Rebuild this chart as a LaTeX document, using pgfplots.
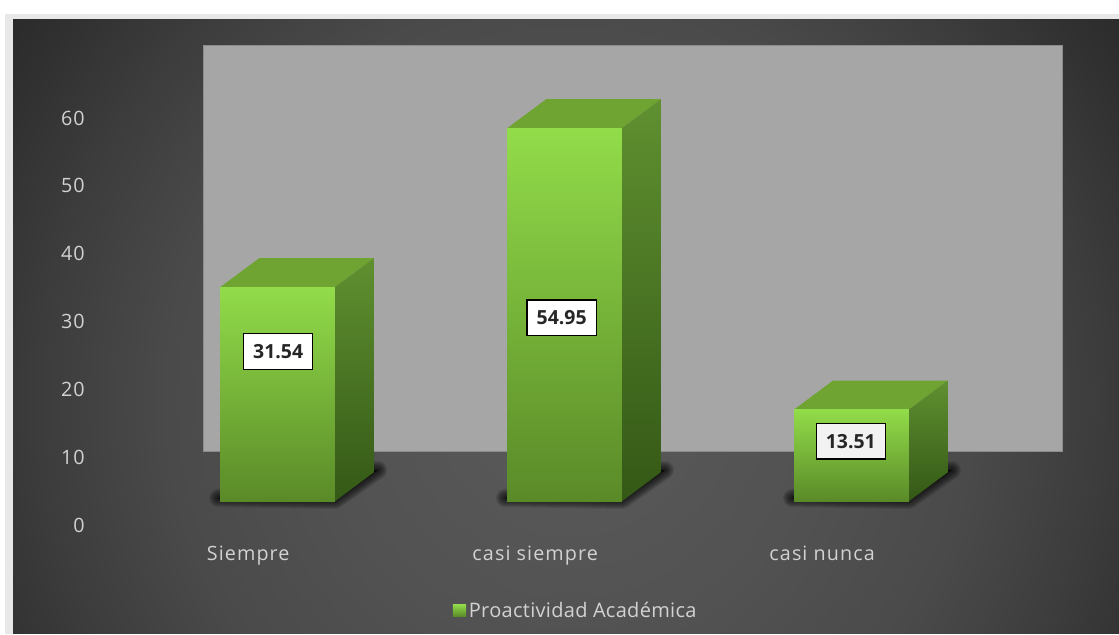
\documentclass[border=0pt]{standalone}
\usepackage{fontspec}
\setmainfont{Open Sans}
\newfontfamily\widefont[LetterSpace=5.5]{Open Sans}
\newfontfamily\legfont[LetterSpace=1.5]{Open Sans}
\usepackage{pgfplots}
\pgfplotsset{compat=1.18}
\definecolor{txt}{HTML}{D2D2D2}
\definecolor{wall}{HTML}{A6A6A6}
\definecolor{fronttop}{HTML}{92DC4A}
\definecolor{frontbot}{HTML}{5A8A28}
\definecolor{topface}{HTML}{6FA433}
\definecolor{sidetop}{HTML}{5F9030}
\definecolor{sidebot}{HTML}{345816}
\definecolor{bg0}{HTML}{5A5A5A}
\definecolor{bg1}{HTML}{525252}
\definecolor{bg2}{HTML}{4A4A4A}
\definecolor{bg3}{HTML}{3C3C3C}
\definecolor{bg4}{HTML}{2F2F2F}
\definecolor{bg5}{HTML}{282828}
\pgfdeclareradialshading{bgshade}{\pgfpoint{0bp}{0bp}}{%
  color(0bp)=(bg0);
  color(8.7bp)=(bg1);
  color(14.4bp)=(bg2);
  color(19bp)=(bg3);
  color(22.7bp)=(bg4);
  color(25.3bp)=(bg5);
  color(100bp)=(bg5)}
\begin{document}
\begin{tikzpicture}
\begin{scope}[x=0.75pt,y=-0.75pt]
\path[use as bounding box, fill=white] (0,0) rectangle (1119,634);
\fill[black!9] (5,14) rectangle (1119,634);
\begin{scope}
\clip (13,19) rectangle (1119,634);
\shade[shading=bgshade] (-130,-300) rectangle (1270,1100);
\end{scope}
\fill[wall] (203,45) rectangle (1063,451);
\draw[black!45,line width=0.6pt] (203,451) -- (203,45) -- (1063,45) -- (1063,451) -- cycle;
% soft shadows at the bar feet
\foreach \dx in {0,287,574}{
  \foreach \w in {18,16,14,12,10,8,6,4,2}{
    \fill[black,opacity=0.10,draw=black,line width=\w*0.75pt,line join=round]
      (218+\dx,498) -- (335+\dx,500) -- (378+\dx,470) -- (345+\dx,470) -- cycle;
  }
}
\end{scope}
\begin{axis}[
  at={(0,-475.5pt)}, anchor=south west,
  width=839.25pt, height=475.5pt, scale only axis,
  xmin=-0.9669, xmax=2.9321, ymin=-19.55, ymax=73.82,
  axis line style={draw=none}, major tick length=0pt,
  xtick={0,1,2}, xticklabels={Siempre,casi siempre,casi nunca},
  ytick={0,10,20,30,40,50,60},
  /pgf/number format/assume math mode=true,
  xticklabel style={font=\widefont\fontsize{14.8}{16}\selectfont, text=txt, anchor=center, text height=11pt, text depth=3pt, xshift=-22pt, yshift=59pt},
  yticklabel style={font=\widefont\fontsize{14.8}{16}\selectfont, text=txt, anchor=east, xshift=67pt, yshift=-18pt},
  legend style={at={(0.5,0.0)}, anchor=south, xshift=12.4pt, yshift=7pt, draw=none, fill=none,
    font=\legfont\fontsize{15}{16}\selectfont, text=txt, inner sep=2pt},
  legend image code/.code={\shade[top color=fronttop,bottom color=frontbot] (0pt,-4.5pt) rectangle (10pt,4.5pt);},
]
% Siempre
\addplot[forget plot, draw=none, fill=topface] coordinates {(-0.2,31.54) (0.2,31.54) (0.336,35.81) (-0.064,35.81)} --cycle;
\addplot[forget plot, draw=none, shading angle=20, top color=sidetop, bottom color=sidebot] coordinates {(0.2,0) (0.336,4.27) (0.336,35.81) (0.2,31.54)} --cycle;
\addplot[draw=none, top color=fronttop, bottom color=frontbot] coordinates {(-0.2,0) (0.2,0) (0.2,31.54) (-0.2,31.54)} --cycle;
\addlegendentry{Proactividad Académica}
% casi siempre
\addplot[forget plot, draw=none, fill=topface] coordinates {(0.8,54.95) (1.2,54.95) (1.336,59.22) (0.936,59.22)} --cycle;
\addplot[forget plot, draw=none, shading angle=20, top color=sidetop, bottom color=sidebot] coordinates {(1.2,0) (1.336,4.27) (1.336,59.22) (1.2,54.95)} --cycle;
\addplot[forget plot, draw=none, top color=fronttop, bottom color=frontbot] coordinates {(0.8,0) (1.2,0) (1.2,54.95) (0.8,54.95)} --cycle;
% casi nunca
\addplot[forget plot, draw=none, fill=topface] coordinates {(1.8,13.51) (2.2,13.51) (2.336,17.78) (1.936,17.78)} --cycle;
\addplot[forget plot, draw=none, shading angle=20, top color=sidetop, bottom color=sidebot] coordinates {(2.2,0) (2.336,4.27) (2.336,17.78) (2.2,13.51)} --cycle;
\addplot[forget plot, draw=none, top color=fronttop, bottom color=frontbot] coordinates {(1.8,0) (2.2,0) (2.2,13.51) (1.8,13.51)} --cycle;
% data labels
\tikzset{dl/.style={draw=black, line width=0.8pt, fill=white, text=black!85, minimum width=52pt, minimum height=26.5pt, inner sep=0pt, font=\fontsize{14.6}{16}\selectfont\bfseries}}
\node[dl] at (axis cs:0.002,22.05) {31.54};
\node[dl] at (axis cs:0.99,27.05) {54.95};
\node[dl, fill=black!5] at (axis cs:1.998,8.83) {13.51};
\end{axis}
\end{tikzpicture}
\end{document}
